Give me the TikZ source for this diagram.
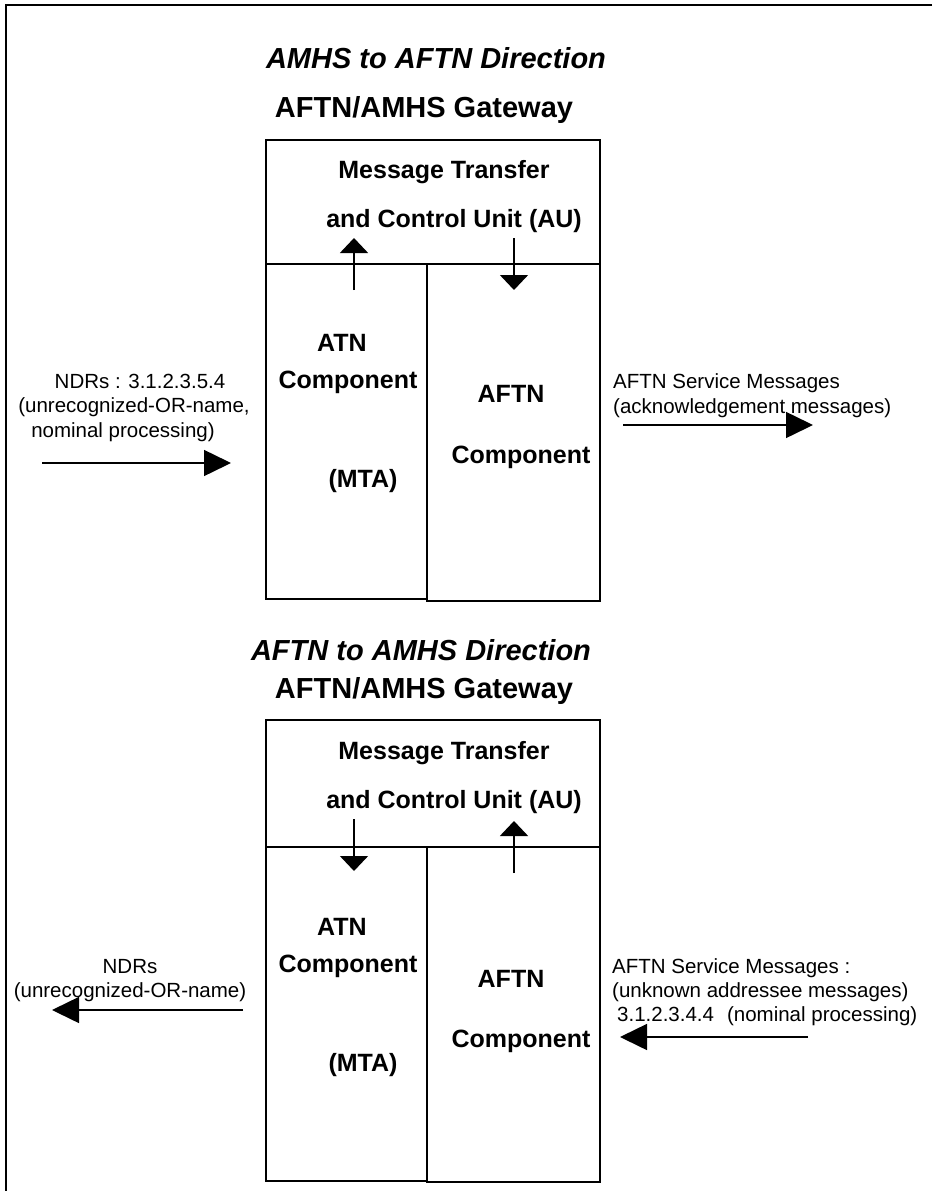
\documentclass[tikz,border=0pt]{standalone}
\usepackage{fontspec}
\setmainfont{Liberation Sans}
\usetikzlibrary{arrows.meta}

\tikzset{
  frameline/.style={line width=2pt},
  unitbox/.style={draw, line width=1.5pt, inner sep=0pt, anchor=north west},
  heading/.style={font=\fontsize{29}{34}\selectfont\bfseries\itshape, anchor=base, inner sep=0pt},
  gwtitle/.style={font=\fontsize{29}{34}\selectfont\bfseries, anchor=base, inner sep=0pt},
  boxlabel/.style={font=\fontsize{25}{30}\selectfont\bfseries, anchor=base, inner sep=0pt},
  note/.style={font=\fontsize{20.5}{24}\selectfont, anchor=base, inner sep=0pt},
  notel/.style={note, anchor=base west},
  harrow/.style={line width=1.5pt, -{Triangle[length=27pt, width=26pt]}},
  varrow/.style={line width=1.5pt, -{Triangle[length=15pt, width=28pt]}},
}

\begin{document}
\begin{tikzpicture}[x=1pt, y=-1pt]
  \useasboundingbox (0,0) rectangle (932,1191);

  % page frame (top and left edges only)
  \draw[frameline] (932,5) -- (5.5,5) -- (5.5,1191);

  % ===================== AMHS to AFTN direction =====================
  \node[heading] (h1) at (436,68) {AMHS to AFTN Direction};
  \node[gwtitle] (g1) at (424,117) {AFTN/AMHS Gateway};

  \node[unitbox, minimum width=334pt, minimum height=124pt] (mtcu1) at (265,139) {};
  \node[unitbox, minimum width=161pt, minimum height=335pt] (atn1) at (265,263) {};
  \node[unitbox, minimum width=173pt, minimum height=337pt] (aftn1) at (426,263) {};

  \node[boxlabel] (mt1) at (444,178) {Message Transfer};
  \node[boxlabel] (cu1) at (454,227) {and Control Unit (AU)};

  \node[boxlabel] (atnA1) at (342,351) {ATN};
  \node[boxlabel] (atnB1) at (348,388) {Component};
  \node[boxlabel] (atnC1) at (363,487) {(MTA)};
  \node[boxlabel] (aftA1) at (511,402) {AFTN};
  \node[boxlabel] (aftB1) at (521,463) {Component};

  \coordinate (u1s) at (354,290);
  \coordinate (u1e) at (354,238);
  \draw[varrow] (u1s) -- (u1e);
  \coordinate (d1s) at (514,238);
  \coordinate (d1e) at (514,290);
  \draw[varrow] (d1s) -- (d1e);

  \node[note] (ndr1a) at (140,388) {NDRs : 3.1.2.3.5.4};
  \node[note] (ndr1b) at (134,412) {(unrecognized-OR-name,};
  \node[note] (ndr1c) at (123,437) {nominal processing)};
  \coordinate (in1s) at (42,463);
  \coordinate (in1e) at (231,463);
  \draw[harrow] (in1s) -- (in1e);

  \node[notel] (svc1a) at (613,388) {AFTN Service Messages};
  \node[notel] (svc1b) at (613,413) {(acknowledgement messages)};
  \coordinate (out1s) at (623,425);
  \coordinate (out1e) at (813,425);
  \draw[harrow] (out1s) -- (out1e);

  % ===================== AFTN to AMHS direction =====================
  \node[heading] (h2) at (421,660) {AFTN to AMHS Direction};
  \node[gwtitle] (g2) at (424,698) {AFTN/AMHS Gateway};

  \node[unitbox, minimum width=334pt, minimum height=127pt] (mtcu2) at (265,719) {};
  \node[unitbox, minimum width=161pt, minimum height=334pt] (atn2) at (265,846) {};
  \node[unitbox, minimum width=173pt, minimum height=335pt] (aftn2) at (426,846) {};

  \node[boxlabel] (mt2) at (444,759) {Message Transfer};
  \node[boxlabel] (cu2) at (454,808) {and Control Unit (AU)};

  \node[boxlabel] (atnA2) at (342,935) {ATN};
  \node[boxlabel] (atnB2) at (348,972) {Component};
  \node[boxlabel] (atnC2) at (363,1071) {(MTA)};
  \node[boxlabel] (aftA2) at (511,987) {AFTN};
  \node[boxlabel] (aftB2) at (521,1047) {Component};

  \coordinate (d2s) at (354,819);
  \coordinate (d2e) at (354,871);
  \draw[varrow] (d2s) -- (d2e);
  \coordinate (u2s) at (514,873);
  \coordinate (u2e) at (514,821);
  \draw[varrow] (u2s) -- (u2e);

  \node[note] (ndr2a) at (130,973) {NDRs};
  \node[note] (ndr2b) at (130,997) {(unrecognized-OR-name)};
  \coordinate (out2s) at (243,1010);
  \coordinate (out2e) at (52,1010);
  \draw[harrow] (out2s) -- (out2e);

  \node[notel] (svc2a) at (612,973) {AFTN Service Messages :};
  \node[notel] (svc2b) at (612,997) {(unknown addressee messages)};
  \node[notel] (svc2c) at (617,1021) {3.1.2.3.4.4\hspace{13pt}(nominal processing)};
  \coordinate (in2s) at (808,1037);
  \coordinate (in2e) at (620,1037);
  \draw[harrow] (in2s) -- (in2e);
\end{tikzpicture}
\end{document}
